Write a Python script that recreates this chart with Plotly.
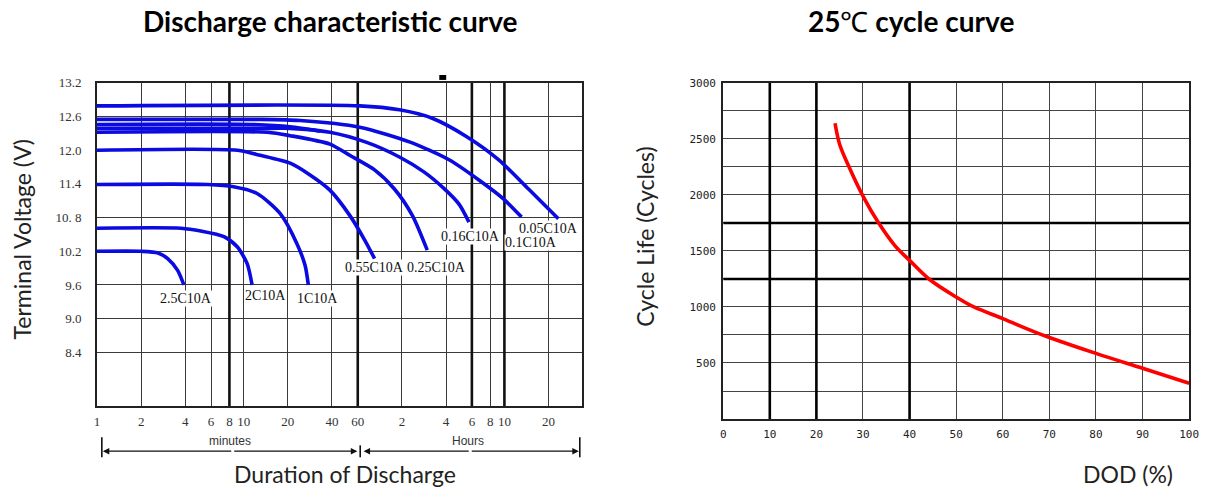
import numpy as np
import plotly.graph_objects as go

W, H = 1213, 489

# ---------------- Discharge characteristic data (time in minutes, volts) ----------------
t_005 = [1, 61.8, 115.4, 193.1, 328, 548.8, 876.1, 1399]
v_005 = [12.79, 12.79, 12.72, 12.57, 12.25, 11.83, 11.31, 10.78]

t_01 = [1, 13.0, 24.27, 61.8, 134.9, 251.6, 401.8, 593.3, 785.6]
v_01 = [12.55, 12.55, 12.53, 12.41, 12.15, 11.83, 11.47, 11.13, 10.81]

t_extra = [1, 11.13, 20.76, 33.15]
v_extra = [12.46, 12.46, 12.42, 12.34]

t_016 = [1, 15.2, 20.76, 38.74, 69.0, 115.4, 170.4, 231.9, 294.1, 343.9]
v_016 = [12.39, 12.39, 12.39, 12.32, 12.14, 11.88, 11.61, 11.32, 11.04, 10.72]

t_025 = [1, 14.5, 20.76, 38.74, 52.9, 78.1, 106.7, 141.3, 178.6]
v_025 = [12.32, 12.32, 12.26, 12.11, 11.91, 11.65, 11.31, 10.84, 10.22]

t_055 = [1, 9.085, 13.0, 20.76, 28.36, 38.74, 52.9, 66.9, 78.1]
v_055 = [12.0, 12.0, 11.91, 11.77, 11.56, 11.29, 10.84, 10.40, 10.07]

t_1C = [1, 5.69, 8.54, 12.35, 17.77, 23.04, 26.23, 27.62]
v_1C = [11.39, 11.39, 11.35, 11.23, 10.87, 10.34, 9.95, 9.6]

t_2C = [1, 3.736, 5.10, 7.34, 9.04, 10.57, 11.42]
v_2C = [10.61, 10.61, 10.56, 10.46, 10.28, 9.98, 9.6]

t_25C = [1, 2.0, 2.609, 3.035, 3.547, 3.914]
v_25C = [10.2, 10.2, 10.17, 10.07, 9.86, 9.6]

curve_t = [t_005, t_01, t_extra, t_016, t_025, t_055, t_1C, t_2C, t_25C]
curve_v = [v_005, v_01, v_extra, v_016, v_025, v_055, v_1C, v_2C, v_25C]

# curve labels: text, time (min), volts
lab_text = ["2.5C10A", "2C10A", "1C10A", "0.55C10A", "0.25C10A",
            "0.16C10A", "0.1C10A", "0.05C10A"]
lab_t = [4.037, 14.06, 32.13, 78.1, 205.5, 350.3, 904, 1197]
lab_v = [9.36, 9.41, 9.36, 9.91, 9.91, 10.47, 10.36, 10.61]

# axis ticks
x_tick_vals = [1, 2, 4, 6, 8, 10, 20, 40, 60, 120, 240, 360, 480, 600, 1200]
x_tick_text = ["1", "2", "4", "6", "8", "10", "20", "40", "60",
               "2", "4", "6", "8", "10", "20"]
x_thick = [8, 60, 360, 600]
y_tick_vals = [8.4, 9.0, 9.6, 10.2, 10.8, 11.4, 12.0, 12.6, 13.2]
y_tick_text = ["8.4", "9.0", "9.6", "10.2", "10. 8", "11.4", "12.0", "12.6", "13.2"]
X_MAX_MIN = 2020
Y_MIN_V, Y_MAX_V = 7.44, 13.2

# ---------------- Cycle life data ----------------
dod = [24, 25, 26.8, 30, 33.2, 36.8, 40, 44.3, 50, 53.8, 60, 66.8, 70, 80, 90, 100]
cycles = [2640, 2450, 2270, 1990, 1760, 1550, 1416, 1245, 1089, 1000, 896, 778, 728, 586, 453, 320]
dod_ticks = list(range(0, 101, 10))
cyc_ticks = list(range(250, 3001, 250))
cyc_text = [str(v) if v % 500 == 0 else "" for v in cyc_ticks]
dod_thick = [10, 20, 40]
cyc_thick = [1250, 1750]

# ---------------- figure ----------------
fig = go.Figure()

BLUE = "rgb(10,10,225)"

for xv in x_thick:
    fig.add_trace(go.Scatter(x=[xv, xv], y=[Y_MIN_V, Y_MAX_V], mode="lines",
                             line=dict(color="#111", width=2.6), hoverinfo="skip",
                             showlegend=False, xaxis="x", yaxis="y"))

for tt, vv in zip(curve_t, curve_v):
    fig.add_trace(go.Scatter(x=tt, y=vv, mode="lines",
                             line=dict(color=BLUE, width=3.6, shape="spline", smoothing=0.7),
                             showlegend=False, xaxis="x", yaxis="y"))

for xv in dod_thick:
    fig.add_trace(go.Scatter(x=[xv, xv], y=[0, 3000], mode="lines",
                             line=dict(color="#000", width=2.6), hoverinfo="skip",
                             showlegend=False, xaxis="x2", yaxis="y2"))
for yv in cyc_thick:
    fig.add_trace(go.Scatter(x=[0, 100], y=[yv, yv], mode="lines",
                             line=dict(color="#000", width=2.6), hoverinfo="skip",
                             showlegend=False, xaxis="x2", yaxis="y2"))

fig.add_trace(go.Scatter(x=dod, y=cycles, mode="lines",
                         line=dict(color="#ff0000", width=3.6, shape="spline"),
                         showlegend=False, xaxis="x2", yaxis="y2"))

annotations = []
# curve labels
for txt, tv, vv in zip(lab_text, lab_t, lab_v):
    annotations.append(dict(x=np.log10(tv), y=vv, xref="x", yref="y", text=txt,
                            showarrow=False, bgcolor="white", borderpad=0,
                            xanchor="center", yanchor="middle",
                            font=dict(family="Liberation Serif", size=14, color="#111")))

TITLE_FONT = dict(family="Lato", size=28, color="#000")
AX_FONT = dict(family="Lato", size=23, color="#222")
# titles
annotations.append(dict(x=331 / W, y=1 - 14 / H, xref="paper", yref="paper",
                        xanchor="center", yanchor="middle",
                        text="<b>Discharge characteristic curve</b>", showarrow=False,
                        font=TITLE_FONT))
annotations.append(dict(x=918 / W, y=1 - 14 / H, xref="paper", yref="paper",
                        xanchor="center", yanchor="middle",
                        text="<b>25</b>℃<b> cycle curve</b>", showarrow=False,
                        font=TITLE_FONT))
# axis titles
annotations.append(dict(x=19 / W, y=1 - 236 / H, xref="paper", yref="paper",
                        xanchor="center", yanchor="middle",
                        text="Terminal Voltage (V)", showarrow=False, textangle=-90,
                        font=AX_FONT))
annotations.append(dict(x=346 / W, y=1 - 474 / H, xref="paper", yref="paper",
                        xanchor="center", yanchor="middle",
                        text="Duration of Discharge", showarrow=False, font=AX_FONT))
annotations.append(dict(x=649 / W, y=1 - 233 / H, xref="paper", yref="paper",
                        xanchor="center", yanchor="middle",
                        text="Cycle Life (Cycles)", showarrow=False, textangle=-90,
                        font=AX_FONT))
annotations.append(dict(x=1137 / W, y=1 - 474 / H, xref="paper", yref="paper",
                        xanchor="center", yanchor="middle",
                        text="DOD (%)", showarrow=False, font=AX_FONT))

# minutes / hours bracket
BY = -0.139
for tip, tail in [(0.012, 0.28), (0.537, 0.28), (0.550, 0.77), (0.994, 0.77)]:
    annotations.append(dict(x=tip, y=BY, ax=tail, ay=BY, xref="x domain", yref="y domain",
                            axref="x domain", ayref="y domain", text="", showarrow=True,
                            arrowhead=2, arrowsize=1, arrowwidth=1.3, arrowcolor="#111",
                            standoff=0, startstandoff=0))
annotations.append(dict(x=0.275, y=-0.108, xref="x domain", yref="y domain", text="minutes",
                        xanchor="center", yanchor="middle", showarrow=False,
                        font=dict(family="Liberation Sans", size=12, color="#333")))
annotations.append(dict(x=0.766, y=-0.108, xref="x domain", yref="y domain", text="Hours",
                        xanchor="center", yanchor="middle", showarrow=False,
                        font=dict(family="Liberation Sans", size=12, color="#333")))

shapes = []
for xb, y0, y1 in [(0.010, -0.096, -0.158), (0.543, -0.121, -0.158), (0.996, -0.096, -0.158)]:
    shapes.append(dict(type="line", xref="x domain", yref="y domain", x0=xb, x1=xb,
                       y0=y0, y1=y1, line=dict(color="#111", width=1.6)))
# small mark above the left chart
shapes.append(dict(type="rect", xref="paper", yref="paper", x0=441 / W, x1=448 / W,
                   y0=1 - 74 / H, y1=1 - 69 / H, fillcolor="#000", line=dict(width=0)))

grid_common = dict(showgrid=True, zeroline=False, showline=True, mirror=True, ticks="")

fig.update_layout(
    width=W, height=H, margin=dict(l=0, r=0, t=0, b=0),
    paper_bgcolor="white", plot_bgcolor="white", showlegend=False,
    xaxis=dict(domain=[95 / W, 585 / W], anchor="y", type="log",
               range=[0, np.log10(X_MAX_MIN)], tickvals=x_tick_vals, ticktext=x_tick_text,
               gridcolor="#3a3a3a", gridwidth=1.3, linecolor="#222", linewidth=2,
               ticklabelstandoff=2,
               tickfont=dict(family="Liberation Serif", size=13, color="#333"), **grid_common),
    yaxis=dict(domain=[1 - 405 / H, 1 - 77 / H], anchor="x", range=[Y_MIN_V, Y_MAX_V],
               tickvals=y_tick_vals, ticktext=y_tick_text,
               gridcolor="#3a3a3a", gridwidth=1.3, linecolor="#222", linewidth=2,
               ticklabelstandoff=11,
               tickfont=dict(family="Liberation Serif", size=13, color="#333"), **grid_common),
    xaxis2=dict(domain=[728 / W, 1199 / W], anchor="y2", range=[0, 100],
                tickvals=dod_ticks, gridcolor="#444", gridwidth=1.3, linecolor="#222",
                linewidth=2, ticklabelstandoff=4,
                tickfont=dict(family="DejaVu Sans Mono", size=11, color="#222"), **grid_common),
    yaxis2=dict(domain=[1 - 418 / H, 1 - 77 / H], anchor="x2", range=[0, 3000],
                tickvals=cyc_ticks, ticktext=cyc_text, gridcolor="#444", gridwidth=1.3,
                linecolor="#222", linewidth=2, ticklabelstandoff=3,
                tickfont=dict(family="DejaVu Sans Mono", size=11, color="#222"), **grid_common),
    annotations=annotations, shapes=shapes,
)

fig.write_html("out.html", config={"displayModeBar": False},
               post_script="document.body.style.margin='0';")
